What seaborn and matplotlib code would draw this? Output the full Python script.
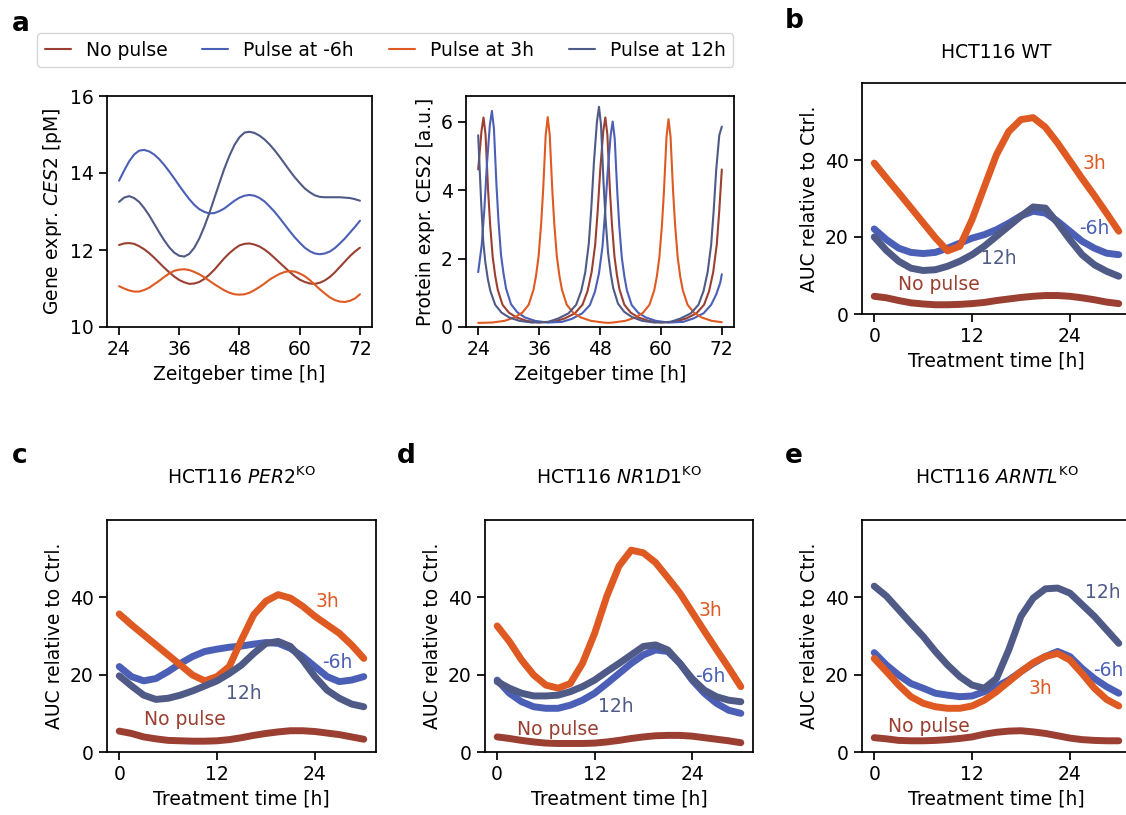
import numpy as np
import pandas as pd
import seaborn as sns
import matplotlib.pyplot as plt

sns.set_theme(style="ticks")
plt.rcParams["font.family"] = ["DejaVu Sans"]
plt.rcParams.update({
    "font.size": 13.5, "axes.labelsize": 13.5, "axes.titlesize": 13.5,
    "xtick.labelsize": 13.5, "ytick.labelsize": 13.5, "legend.fontsize": 13.5,
    "mathtext.fontset": "dejavusans",
    "text.color": "black", "axes.labelcolor": "black", "axes.edgecolor": "black",
    "xtick.color": "black", "ytick.color": "black",
})

# ---------------- series / colours ----------------
pulse_labels = ["No pulse", "Pulse at -6h", "Pulse at 3h", "Pulse at 12h"]
short_labels = ["No pulse", "-6h", "3h", "12h"]
colors = ["#9a3f31", "#4b5fb6", "#de5a22", "#4f5a86"]

# ---------------- a: gene expression (Zeitgeber time) ----------------
zt = list(range(24, 73))
gene_nopulse = [12.13, 12.17, 12.18, 12.16, 12.10, 12.02, 11.92, 11.80, 11.67, 11.54, 11.42, 11.31, 11.22,
                11.16, 11.12, 11.13, 11.17, 11.25, 11.36, 11.49, 11.64, 11.79, 11.92, 12.03, 12.12,
                12.16, 12.17, 12.14, 12.09, 12.01, 11.91, 11.79, 11.67, 11.55, 11.43, 11.32, 11.23,
                11.17, 11.13, 11.12, 11.15, 11.21, 11.30, 11.42, 11.56, 11.70, 11.84, 11.96, 12.06]
gene_m6 = [13.80, 14.06, 14.30, 14.48, 14.58, 14.60, 14.56, 14.48, 14.36, 14.21, 14.04, 13.86, 13.67,
           13.49, 13.32, 13.17, 13.06, 12.99, 12.95, 12.96, 13.01, 13.08, 13.18, 13.28, 13.36,
           13.41, 13.43, 13.41, 13.35, 13.26, 13.13, 12.99, 12.83, 12.66, 12.49, 12.33, 12.19,
           12.06, 11.97, 11.91, 11.89, 11.91, 11.96, 12.05, 12.17, 12.30, 12.45, 12.60, 12.76]
gene_p3 = [11.06, 11.00, 10.95, 10.92, 10.92, 10.96, 11.02, 11.11, 11.20, 11.30, 11.39, 11.46, 11.49,
           11.50, 11.48, 11.43, 11.37, 11.29, 11.20, 11.11, 11.03, 10.95, 10.89, 10.85, 10.84,
           10.85, 10.89, 10.96, 11.04, 11.13, 11.23, 11.31, 11.38, 11.43, 11.45, 11.44, 11.39,
           11.32, 11.22, 11.10, 10.98, 10.87, 10.77, 10.70, 10.66, 10.65, 10.68, 10.74, 10.85]
gene_p12 = [13.25, 13.36, 13.40, 13.35, 13.25, 13.09, 12.90, 12.68, 12.46, 12.25, 12.07, 11.93, 11.85,
            11.83, 11.90, 12.06, 12.30, 12.61, 12.96, 13.35, 13.74, 14.12, 14.45, 14.73, 14.93,
            15.05, 15.07, 15.04, 14.97, 14.87, 14.74, 14.59, 14.42, 14.24, 14.06, 13.89, 13.74,
            13.60, 13.50, 13.42, 13.38, 13.37, 13.37, 13.37, 13.37, 13.36, 13.35, 13.32, 13.28]

# ---------------- a: protein expression ----------------
prot_t_nopulse = [24.0, 24.65, 25.05, 25.45, 25.95, 26.35, 26.85, 27.35, 27.85, 28.8, 30.05, 31.55,
                  33.55, 36.05, 39.05, 41.05, 43.05, 44.55, 45.55, 46.35, 47.05, 47.55, 48.05, 48.65,
                  49.05, 49.45, 49.95, 50.35, 50.85, 51.35, 51.85, 52.8, 54.05, 55.55, 57.55, 60.05,
                  63.0, 65.0, 67.0, 68.5, 69.5, 70.3, 71.0, 71.5, 72.0]
prot_nopulse = [4.6, 5.72, 6.12, 5.62, 4.0, 3.0, 2.06, 1.5, 1.09, 0.65, 0.42, 0.28,
                0.18, 0.13, 0.16, 0.25, 0.4, 0.65, 1.05, 1.6, 2.4, 3.4, 4.6, 5.72,
                6.12, 5.62, 4.0, 3.0, 2.06, 1.5, 1.09, 0.65, 0.42, 0.28, 0.18, 0.13,
                0.16, 0.25, 0.4, 0.65, 1.05, 1.6, 2.4, 3.4, 4.6]
prot_t_m6 = [24.0, 24.7, 25.2, 25.7, 26.3, 26.7, 27.1, 27.6, 28.0, 28.5, 29.0, 29.5, 30.45,
             31.7, 33.2, 35.2, 37.7, 40.5, 42.5, 44.5, 46.0, 47.0, 47.8, 48.5, 49.0, 49.5,
             50.1, 50.5, 50.9, 51.4, 51.8, 52.3, 52.8, 53.3, 54.25, 55.5, 57.0, 59.0, 61.5,
             64.4, 66.4, 68.4, 69.9, 70.9, 71.7, 72.0]
prot_m6 = [1.6, 2.4, 3.4, 4.7, 5.9, 6.31, 5.8, 4.15, 3.1, 2.1, 1.55, 1.12, 0.67,
           0.43, 0.28, 0.18, 0.13, 0.15, 0.24, 0.4, 0.64, 1.03, 1.57, 2.36, 3.35, 4.5,
           5.6, 6.0, 5.5, 3.95, 2.95, 2.02, 1.48, 1.07, 0.64, 0.42, 0.28, 0.18, 0.13,
           0.15, 0.25, 0.4, 0.65, 0.95, 1.3, 1.54]
prot_t_p3 = [24.0, 26.7, 29.2, 31.2, 32.7, 33.95, 34.9, 35.4, 35.9, 36.4, 36.8, 37.3, 37.7,
             38.1, 38.6, 39.0, 39.5, 40.0, 40.5, 41.45, 42.7, 44.2, 46.2, 48.7, 49.6, 50.5,
             53.0, 55.0, 56.5, 57.75, 58.7, 59.2, 59.7, 60.2, 60.6, 61.1, 61.5, 61.9, 62.4,
             62.8, 63.3, 63.8, 64.3, 65.25, 66.5, 68.0, 70.0, 72.0]
prot_p3 = [0.12, 0.13, 0.18, 0.28, 0.42, 0.65, 1.09, 1.5, 2.06, 3.0, 4.0, 5.6, 6.13,
           5.6, 4.0, 3.0, 2.06, 1.5, 1.09, 0.65, 0.42, 0.28, 0.18, 0.13, 0.12, 0.13,
           0.18, 0.28, 0.42, 0.65, 1.08, 1.48, 2.04, 2.97, 3.96, 5.55, 6.07, 5.55, 3.96,
           2.97, 2.04, 1.48, 1.08, 0.65, 0.42, 0.28, 0.18, 0.14]
prot_t_p12 = [24.0, 24.3, 24.6, 25.0, 25.4, 25.9, 26.4, 27.35, 28.6, 30.1, 32.1, 34.6, 37.8,
              39.8, 41.8, 43.3, 44.3, 45.1, 45.8, 46.3, 46.8, 47.4, 47.8, 48.2, 48.7, 49.1,
              49.6, 50.1, 50.6, 51.55, 52.8, 54.3, 56.3, 58.8, 61.9, 63.9, 65.9, 67.4, 68.4,
              69.2, 69.9, 70.4, 70.9, 71.5, 72.0]
prot_p12 = [5.6, 4.6, 3.6, 2.5, 1.9, 1.4, 1.05, 0.65, 0.42, 0.28, 0.18, 0.13, 0.15,
            0.25, 0.4, 0.65, 1.05, 1.6, 2.45, 3.5, 4.8, 6.0, 6.43, 5.9, 4.2, 3.15,
            2.15, 1.57, 1.14, 0.68, 0.44, 0.29, 0.18, 0.13, 0.15, 0.25, 0.4, 0.65, 1.05,
            1.6, 2.4, 3.4, 4.6, 5.6, 5.85]

# ---------------- b-e: AUC relative to control ----------------
treat_t = [0, 1.5, 3, 4.5, 6, 7.5, 9, 10.5, 12, 13.5, 15, 16.5, 18, 19.5, 21, 22.5, 24, 25.5, 27, 28.5, 30]

wt_nopulse = [4.6, 4.2, 3.5, 2.9, 2.6, 2.4, 2.4, 2.5, 2.7, 3.0, 3.5, 3.9, 4.3, 4.6, 4.8, 4.8, 4.6, 4.2, 3.7, 3.1, 2.7]
wt_m6 = [22.1, 19.3, 17.1, 16.0, 15.7, 16.0, 17.1, 18.4, 19.7, 20.6, 21.9, 23.6, 25.5, 26.7, 26.2, 24.1, 21.5, 18.9, 17.1, 15.8, 15.4]
wt_p3 = [39.2, 35.3, 31.5, 27.6, 23.7, 19.8, 16.4, 17.6, 24.5, 33.0, 41.4, 47.4, 50.5, 51.0, 48.5, 44.4, 39.8, 35.2, 30.8, 26.2, 21.5]
wt_p12 = [20.0, 16.5, 13.7, 11.9, 11.3, 11.5, 12.4, 13.7, 15.4, 17.6, 20.2, 22.8, 25.4, 27.8, 27.5, 23.6, 19.3, 15.4, 12.8, 11.1, 9.8]

per2_nopulse = [5.4, 4.8, 3.9, 3.4, 3.0, 2.9, 2.8, 2.8, 2.9, 3.2, 3.7, 4.3, 4.8, 5.2, 5.5, 5.5, 5.3, 4.9, 4.5, 3.9, 3.3]
per2_m6 = [22.1, 19.5, 18.4, 19.0, 20.8, 22.9, 24.7, 26.0, 26.6, 27.1, 27.4, 27.9, 28.3, 28.1, 26.8, 24.7, 22.1, 19.5, 18.2, 18.6, 19.5]
per2_p3 = [35.7, 32.9, 30.3, 27.7, 25.1, 22.5, 19.9, 18.4, 19.5, 22.1, 29.0, 35.5, 39.0, 40.7, 39.8, 37.7, 35.1, 32.9, 30.7, 27.7, 24.2]
per2_p12 = [19.7, 17.1, 14.7, 13.6, 13.9, 14.7, 15.8, 17.1, 18.4, 20.3, 22.5, 25.5, 28.1, 28.6, 27.3, 23.8, 19.5, 16.0, 13.9, 12.4, 11.7]

nr1d1_nopulse = [3.9, 3.5, 3.0, 2.6, 2.3, 2.2, 2.2, 2.2, 2.3, 2.6, 3.0, 3.5, 3.9, 4.2, 4.3, 4.3, 4.1, 3.7, 3.3, 2.9, 2.4]
nr1d1_m6 = [18.6, 15.2, 13.0, 11.7, 11.3, 11.3, 12.1, 13.4, 15.2, 17.7, 20.3, 22.9, 25.1, 26.4, 26.0, 22.9, 18.6, 15.2, 12.6, 10.8, 10.0]
nr1d1_p3 = [32.6, 28.6, 23.8, 19.9, 17.3, 16.5, 17.7, 22.9, 30.7, 40.3, 48.1, 52.2, 51.5, 49.0, 45.1, 41.1, 36.2, 31.3, 26.5, 21.8, 16.9]
nr1d1_p12 = [18.2, 16.5, 15.2, 14.5, 14.5, 14.7, 15.6, 16.9, 18.6, 20.8, 22.9, 25.1, 27.3, 27.7, 26.4, 22.9, 19.0, 16.0, 14.3, 13.4, 13.0]

arntl_nopulse = [3.7, 3.4, 3.0, 2.9, 2.9, 3.0, 3.2, 3.5, 3.9, 4.6, 5.1, 5.4, 5.5, 5.2, 4.8, 4.2, 3.6, 3.2, 3.0, 2.9, 2.9]
arntl_m6 = [25.7, 22.5, 19.9, 17.7, 16.5, 15.2, 14.7, 14.3, 14.5, 15.6, 16.9, 18.6, 20.8, 22.9, 24.7, 26.0, 24.7, 21.6, 19.0, 16.9, 15.2]
arntl_p3 = [24.2, 20.8, 17.3, 14.3, 12.6, 11.7, 11.3, 11.3, 11.9, 13.4, 15.6, 18.2, 20.8, 23.1, 24.7, 25.5, 23.8, 20.3, 16.5, 13.6, 11.9]
arntl_p12 = [42.9, 40.3, 36.8, 33.3, 29.9, 26.0, 22.5, 19.5, 17.3, 16.5, 19.0, 26.4, 35.1, 39.8, 42.2, 42.4, 41.1, 38.1, 35.1, 31.6, 28.1]

# ---------------- layout (pixel boxes) ----------------
W, H = 1126, 815
fig = plt.figure(figsize=(W / 100, H / 100), dpi=100)


def px_axes(x0, y0, x1, y1):
    return fig.add_axes([x0 / W, 1 - y1 / H, (x1 - x0) / W, (y1 - y0) / H])


# ---- a, gene expression
ax_gene = px_axes(107, 96, 372, 327)
for lab, c, vals in zip(pulse_labels, colors, [gene_nopulse, gene_m6, gene_p3, gene_p12]):
    sns.lineplot(x=zt, y=vals, color=c, lw=1.5, label=lab, ax=ax_gene)
handles, labels = ax_gene.get_legend_handles_labels()
ax_gene.get_legend().remove()
ax_gene.set_ylim(10, 16)
ax_gene.set_xticks([24, 36, 48, 60, 72])
ax_gene.set_yticks([10, 12, 14, 16])
ax_gene.set_xlabel("Zeitgeber time [h]")
ax_gene.set_ylabel(r"Gene expr. $\mathit{CES2}$ [pM]")

# ---- a, protein expression
ax_prot = px_axes(466, 96, 734, 327)
prot_sets = [(prot_t_nopulse, prot_nopulse), (prot_t_m6, prot_m6),
             (prot_t_p3, prot_p3), (prot_t_p12, prot_p12)]
for c, (tt, vals) in zip(colors, prot_sets):
    sns.lineplot(x=tt, y=vals, color=c, lw=1.5, ax=ax_prot)
ax_prot.set_ylim(bottom=0)
ax_prot.set_xticks([24, 36, 48, 60, 72])
ax_prot.set_yticks([0, 2, 4, 6])
ax_prot.set_xlabel("Zeitgeber time [h]")
ax_prot.set_ylabel("Protein expr. CES2 [a.u.]")

fig.legend(handles, labels, loc="upper left", bbox_to_anchor=(37 / W, 1 - 33 / H),
           ncol=4, frameon=True, handlelength=1.4, columnspacing=1.85, borderaxespad=0)

# ---- b-e, AUC panels
panels = [
    ((862, 83, 1131, 314), "HCT116 WT", 18,
     [wt_nopulse, wt_m6, wt_p3, wt_p12],
     [(2.95, 7.6), (25.1, 22.1), (25.5, 39.2), (13.1, 14.3)]),
    ((107, 520, 376, 752), r"HCT116 $\mathit{PER2}^{\mathrm{KO}}$", 26,
     [per2_nopulse, per2_m6, per2_p3, per2_p12],
     [(3.05, 8.4), (24.9, 23.1), (24.1, 39.0), (13.1, 15.2)]),
    ((485, 520, 753, 752), r"HCT116 $\mathit{NR1D1}^{\mathrm{KO}}$", 26,
     [nr1d1_nopulse, nr1d1_m6, nr1d1_p3, nr1d1_p12],
     [(2.45, 5.8), (24.4, 19.5), (24.8, 36.6), (12.4, 11.7)]),
    ((862, 520, 1131, 752), r"HCT116 $\mathit{ARNTL}^{\mathrm{KO}}$", 26,
     [arntl_nopulse, arntl_m6, arntl_p3, arntl_p12],
     [(1.7, 6.7), (26.9, 21.2), (18.9, 16.5), (25.8, 41.3)]),
]
for box, title, pad, series, label_pos in panels:
    ax = px_axes(*box)
    for c, vals in zip(colors, series):
        sns.lineplot(x=treat_t, y=vals, color=c, lw=5, solid_capstyle="round", ax=ax)
    for lab, c, (tx, ty) in zip(short_labels, colors, label_pos):
        ax.text(tx, ty, lab, color=c, ha="left", va="center", zorder=5)
    ax.set_ylim(0, 60)
    ax.set_yticks([0, 20, 40])
    ax.set_xticks([0, 12, 24])
    ax.set_xlabel("Treatment time [h]")
    ax.set_ylabel("AUC relative to Ctrl.")
    ax.set_title(title, pad=pad)

# panel letters
for letter, x, y in [("a", 12, 31), ("b", 785, 28), ("c", 12, 463), ("d", 397, 463), ("e", 785, 463)]:
    fig.text(x / W, 1 - y / H, letter, fontsize=19, fontweight="bold", ha="left", va="baseline")

fig.savefig("out.png", dpi=100)
